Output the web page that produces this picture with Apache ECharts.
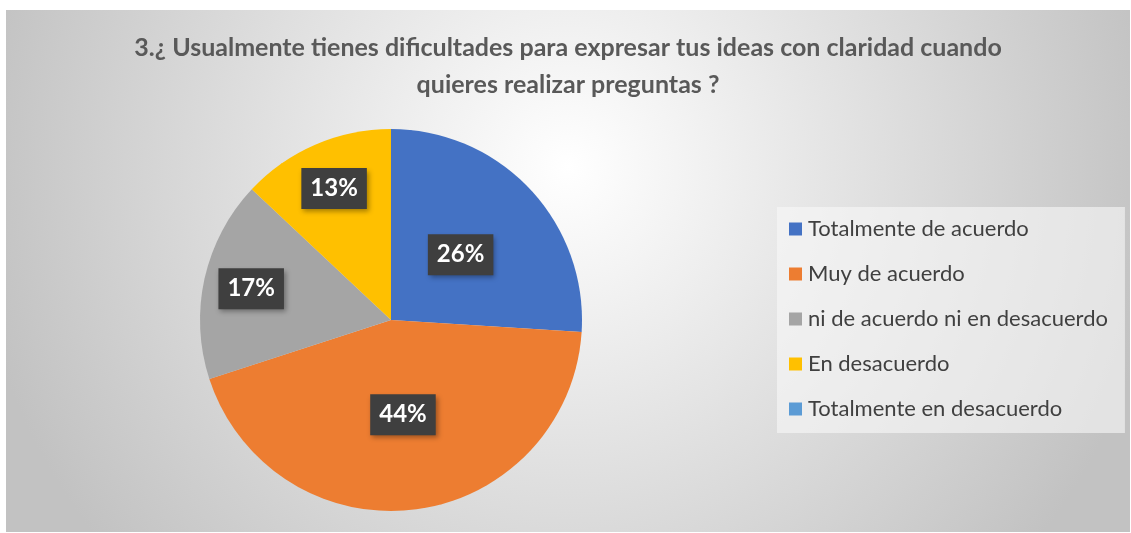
<!DOCTYPE html>
<html>
<head>
<meta charset="utf-8">
<script src="https://cdn.jsdelivr.net/npm/echarts@6/dist/echarts.min.js"></script>
<style>
  html, body { margin: 0; padding: 0; background: #fff; }
  #chart { position: absolute; left: 6px; top: 10px; width: 1124px; height: 522px; }
</style>
</head>
<body>
<div id="chart"></div>
<script>
const titleText = "3.¿ Usualmente tienes dificultades para expresar tus ideas con claridad cuando\nquieres realizar preguntas ?";
const categories = ["Totalmente de acuerdo", "Muy de acuerdo", "ni de acuerdo ni en desacuerdo", "En desacuerdo", "Totalmente en desacuerdo"];
const values = [26, 44, 17, 13, 0];
const colors = ["#4472C4", "#ED7D31", "#A5A5A5", "#FFC000", "#5B9BD5"];
// labels of the small slices sit further out than the middle of the radius
const labelRadius = [0.5, 0.5, 0.75, 0.75, 0.5];

const cx = 385, cy = 310, R = 191;
const total = values.reduce((a, b) => a + b, 0);

let chart = echarts.init(document.getElementById("chart"));

let pieData = categories.map((name, i) => ({
  name: name,
  value: values[i],
  itemStyle: { color: colors[i] },
  label: { show: values[i] > 0 }
}));

chart.setOption({
  backgroundColor: {
    type: "radial", x: 0.5, y: 0.3, r: 1.15,
    colorStops: [
      { offset: 0, color: "#ffffff" },
      { offset: 1, color: "#c2c2c2" }
    ]
  },
  title: {
    text: titleText,
    left: "center",
    top: 14,
    textStyle: {
      fontFamily: "Lato",
      fontWeight: "bold",
      fontSize: 25,
      lineHeight: 37,
      color: "#595959"
    }
  },
  legend: {
    orient: "vertical",
    left: 771,
    top: 197,
    padding: [11, 17, 13, 12],
    backgroundColor: "rgba(248,248,248,0.6)",
    itemWidth: 13,
    itemHeight: 13,
    itemGap: 23,
    icon: "rect",
    data: categories,
    textStyle: {
      fontFamily: "Lato",
      fontSize: 22,
      lineHeight: 22,
      color: "#404040",
      padding: [0, 0, 0, 1]
    }
  },
  series: [
    {
      type: "pie",
      center: [cx, cy],
      radius: R,
      startAngle: 90,
      clockwise: true,
      silent: true,
      animation: false,
      itemStyle: { borderWidth: 0 },
      label: {
        position: "inside",
        formatter: "{c}%",
        fontFamily: "Lato",
        fontWeight: "bold",
        fontSize: 24,
        color: "#ffffff",
        backgroundColor: "#3f3f3f",
        padding: [9, 9, 8, 9],
        shadowColor: "rgba(0,0,0,0.35)",
        shadowBlur: 5,
        shadowOffsetX: 2,
        shadowOffsetY: 3
      },
      labelLayout: function (p) {
        let before = values.slice(0, p.dataIndex).reduce((a, b) => a + b, 0);
        let mid = (before + values[p.dataIndex] / 2) / total * Math.PI * 2;
        let r = R * labelRadius[p.dataIndex];
        return {
          x: cx + r * Math.sin(mid),
          y: cy - r * Math.cos(mid),
          align: "center",
          verticalAlign: "middle"
        };
      },
      data: pieData
    }
  ]
});
</script>
</body>
</html>
